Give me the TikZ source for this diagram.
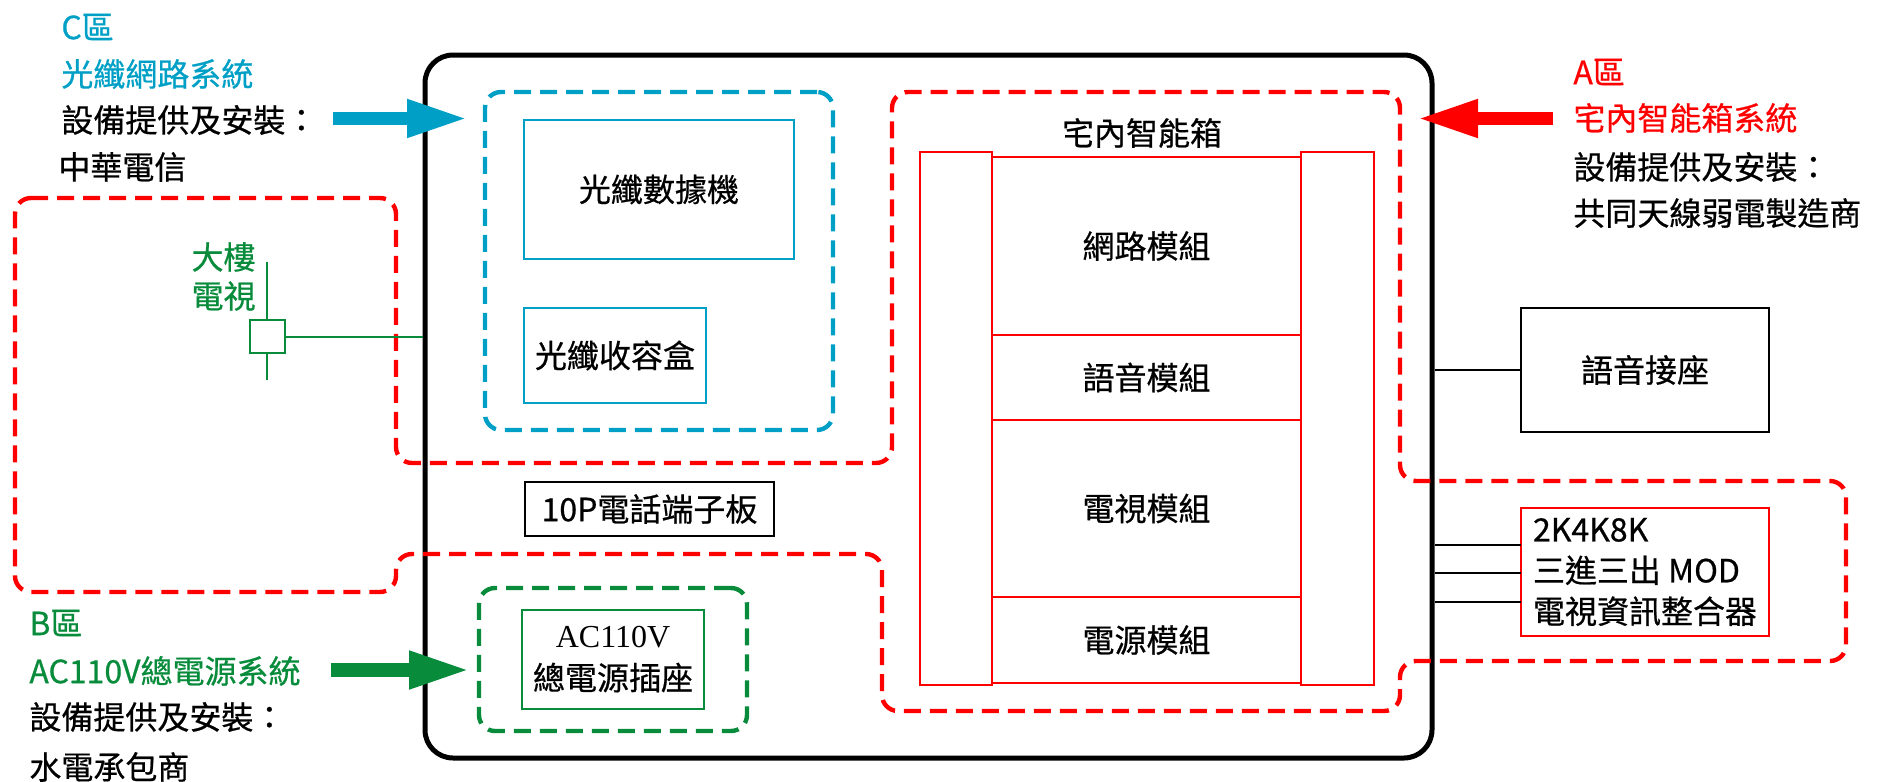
\documentclass[tikz,border=0pt]{standalone}
\usepackage{fontspec}
\newfontfamily\cjk{Noto Sans CJK TC}[BoldFont={Noto Sans CJK TC}, BoldFeatures={FakeBold=0.6}]
\newfontfamily\tms{Liberation Serif}
\usetikzlibrary{arrows.meta}
\definecolor{cblue}{RGB}{0,160,198}
\definecolor{cgreen}{RGB}{8,140,60}
\definecolor{cred}{RGB}{255,0,0}
\begin{document}
\begin{tikzpicture}[x=0.5pt,y=-0.5pt,
  txt/.style={font=\cjk\bfseries\fontsize{16}{19}\selectfont, inner sep=0pt},
  lbl/.style={txt, anchor=west},
  zone/.style={line width=2.2pt, dash pattern=on 8.5pt off 4.5pt, rounded corners=8pt},
  boxline/.style={draw, line width=1.3pt, inner sep=0pt},
  bigarrow/.style={line width=6.6pt, -{Triangle[length=30.5pt,width=17.5pt]}},
]
\useasboundingbox (0,0) rectangle (1881,782);

% main cabinet
\node[draw, line width=2.5pt, rounded corners=14pt, minimum width=503.5pt, minimum height=351.5pt, inner sep=0pt] (mainbox) at (928.5,406.5) {};

% red dashed zone (A + TV region)
\draw[zone, cred] (15,198) -- (396,198) -- (396,463) -- (892,463) -- (892,92) -- (1400,92) -- (1400,481) -- (1846,481) -- (1846,661) -- (1400,661) -- (1400,711) -- (882,711) -- (882,554) -- (396,554) -- (396,592) -- (15,592) -- cycle;

% C zone (fiber)
\node[zone, draw=cblue, minimum width=174pt, minimum height=169pt, inner sep=0pt] (fzone) at (659,261) {};
\node[boxline, draw=cblue, minimum width=135pt, minimum height=69.5pt, txt] (modem) at (659,189.5) {光纖數據機};
\node[boxline, draw=cblue, minimum width=91pt, minimum height=47.5pt, txt] (fbox) at (615,355.5) {光纖收容盒};

% telephone terminal board
\node[boxline, minimum width=124.5pt, minimum height=27pt, txt] (tboard) at (649.5,509) {10P電話端子板};

% B zone (power)
\node[zone, draw=cgreen, minimum width=134pt, minimum height=71.5pt, inner sep=0pt] (pzone) at (613,659.5) {};
\node[boxline, draw=cgreen, minimum width=91pt, minimum height=49.5pt, txt, align=center, font=\cjk\bfseries\fontsize{16}{21}\selectfont] (acbox) at (613,659.5) {{\tms\mdseries AC110V}\\總電源插座};

% smart box
\node[txt] (sbtitle) at (1142,133) {宅內智能箱};
\node[boxline, draw=cred, minimum width=36pt, minimum height=266.5pt] (lcol) at (956,418.5) {};
\node[boxline, draw=cred, minimum width=36.5pt, minimum height=266.5pt] (rcol) at (1337.5,418.5) {};
\node[boxline, draw=cred, minimum width=154.5pt, minimum height=89pt, txt] (netm) at (1146.5,246) {網路模組};
\node[boxline, draw=cred, minimum width=154.5pt, minimum height=42.5pt, txt] (voicem) at (1146.5,377.5) {語音模組};
\node[boxline, draw=cred, minimum width=154.5pt, minimum height=88.5pt, txt] (tvm) at (1146.5,508.5) {電視模組};
\node[boxline, draw=cred, minimum width=154.5pt, minimum height=43pt, txt] (powm) at (1146.5,640) {電源模組};

% outside devices
\node[boxline, minimum width=124pt, minimum height=62pt, txt] (jack) at (1645,370) {語音接座};
\node[boxline, draw=cred, line width=1.2pt, minimum width=124pt, minimum height=64pt, txt, align=left, font=\cjk\bfseries\fontsize{16}{20.5}\selectfont] (mod) at (1645,572) {2K4K8K\\三進三出 MOD\\電視資訊整合器};

\draw[line width=1pt] (mainbox.east |- jack.west) -- (jack.west);
\coordinate (m1) at (1521,545);
\coordinate (m2) at (1521,573);
\coordinate (m3) at (1521,602);
\draw[line width=1pt] (mainbox.east |- m1) -- (m1);
\draw[line width=1pt] (mainbox.east |- m2) -- (m2);
\draw[line width=1pt] (mainbox.east |- m3) -- (m3);

% building TV tap
\node[draw=cgreen, line width=1pt, minimum width=17.5pt, minimum height=16.5pt, inner sep=0pt] (tvtap) at (267,336.5) {};
\coordinate (tvtop) at (267,262);
\coordinate (tvbot) at (267,380);
\draw[cgreen, line width=1pt] (tvtop) -- (tvtap.north);
\draw[cgreen, line width=1pt] (tvtap.south) -- (tvbot);
\draw[cgreen, line width=1pt] (tvtap.east) -- (mainbox.west |- tvtap.east);
\node[txt, text=cgreen, anchor=east, align=right, font=\cjk\bfseries\fontsize{16}{19.5}\selectfont] (bldtv) at (256,276.5) {大樓\\電視};

% C text block
\node[lbl, text=cblue] (c1) at (61,27) {C區};
\node[lbl, text=cblue] (c2) at (61,74) {光纖網路系統};
\node[lbl] (c3) at (61,120) {設備提供及安裝：};
\node[lbl] (c4) at (58,167) {中華電信};

% A text block
\node[lbl, text=cred] (a1) at (1573,72) {A區};
\node[lbl, text=cred] (a2) at (1573,118) {宅內智能箱系統};
\node[lbl] (a3) at (1573,167) {設備提供及安裝：};
\node[lbl] (a4) at (1573,213) {共同天線弱電製造商};

% B text block
\node[lbl, text=cgreen] (b1) at (29,623) {B區};
\node[lbl, text=cgreen] (b2) at (29,671) {AC110V總電源系統};
\node[lbl] (b3) at (29,717) {設備提供及安裝：};
\node[lbl] (b4) at (29,767) {水電承包商};

% arrows
\coordinate (cas) at (333,118.5);
\coordinate (cae) at (468,118.5);
\draw[bigarrow, cblue] (cas) -- (cae);
\coordinate (ras) at (1553,118.5);
\coordinate (rae) at (1417,118.5);
\draw[bigarrow, cred] (ras) -- (rae);
\coordinate (gas) at (331,670);
\coordinate (gae) at (470,670);
\draw[bigarrow, cgreen] (gas) -- (gae);
\end{tikzpicture}
\end{document}
